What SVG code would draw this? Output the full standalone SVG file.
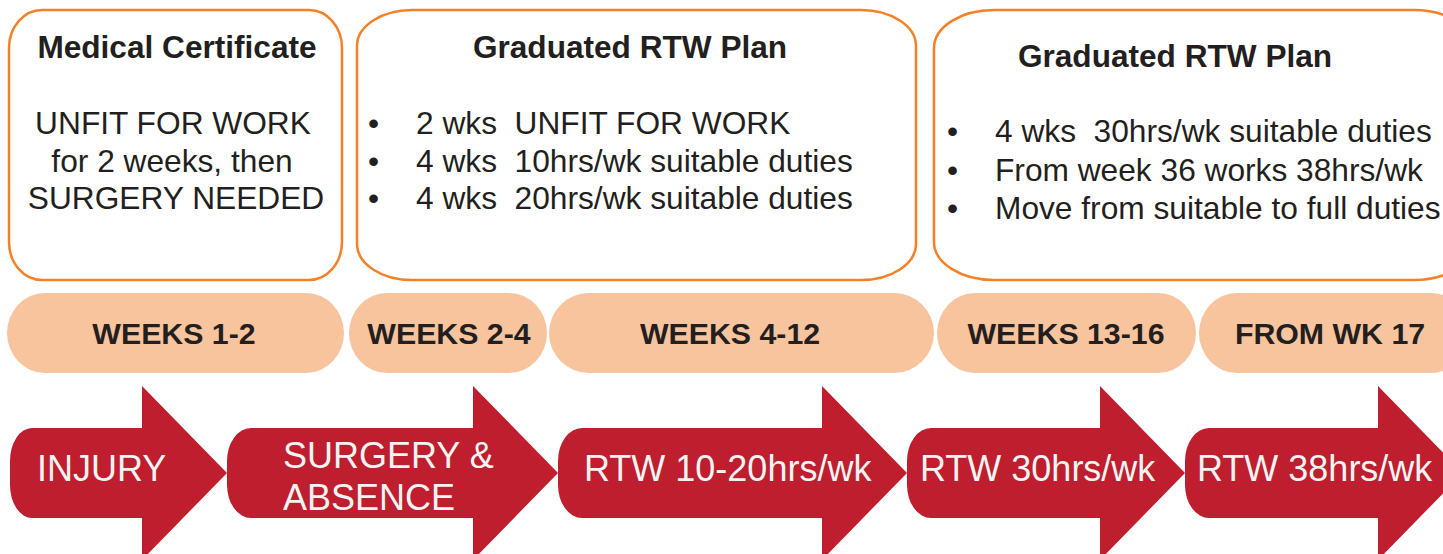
<svg xmlns="http://www.w3.org/2000/svg" width="1443" height="554" viewBox="0 0 1443 554">
<style>
.box{fill:#ffffff;stroke:#F58025;stroke-width:2.5}
.pill{fill:#F8C49D}
.arrow{fill:#BE1E2D}
.t{font-family:"Liberation Sans",Arial,sans-serif;fill:#231F20}
.title{font-size:31.6px;font-weight:bold;text-anchor:middle}
.body{font-size:31.7px;white-space:pre}
.ctr{text-anchor:middle}
.pt{font-size:30.3px;font-weight:bold;text-anchor:middle}
.at{font-family:"Liberation Sans",Arial,sans-serif;fill:#F3F3F3;font-size:36px;white-space:pre}
</style>
<rect width="1443" height="554" fill="#ffffff"/>
<g id="box-medical-certificate">
<rect class="box" x="9" y="10" width="333" height="270" rx="33" ry="38"/>
<text class="t title" x="177" y="58">Medical Certificate</text>
<text class="t body ctr" x="173" y="134">UNFIT FOR WORK</text>
<text class="t body ctr" x="172" y="172">for 2 weeks, then</text>
<text class="t body ctr" x="176" y="209">SURGERY NEEDED</text>
</g>
<g id="box-rtw-plan-1">
<rect class="box" x="357" y="10" width="559" height="270" rx="55" ry="36"/>
<text class="t title" x="630" y="58">Graduated RTW Plan</text>
<text class="t body" x="368" y="134">•</text>
<text class="t body" x="416" y="134">2 wks  UNFIT FOR WORK</text>
<text class="t body" x="368" y="172">•</text>
<text class="t body" x="416" y="172">4 wks  10hrs/wk suitable duties</text>
<text class="t body" x="368" y="209">•</text>
<text class="t body" x="416" y="209">4 wks  20hrs/wk suitable duties</text>
</g>
<g id="box-rtw-plan-2">
<rect class="box" x="934" y="10" width="540" height="270" rx="60" ry="38"/>
<text class="t title" x="1175" y="67">Graduated RTW Plan</text>
<text class="t body" x="947" y="142">•</text>
<text class="t body" x="995" y="142">4 wks  30hrs/wk suitable duties</text>
<text class="t body" x="947" y="181">•</text>
<text class="t body" x="995" y="181">From week 36 works 38hrs/wk</text>
<text class="t body" x="947" y="219">•</text>
<text class="t body" x="995" y="219">Move from suitable to full duties</text>
</g>
<g id="pill-weeks-1-2">
<rect class="pill" x="7" y="293" width="337" height="80" rx="38" ry="40"/>
<text class="t pt" x="174" y="344">WEEKS 1-2</text>
</g>
<g id="pill-weeks-2-4">
<rect class="pill" x="349" y="293" width="198" height="80" rx="38" ry="40"/>
<text class="t pt" x="449" y="344">WEEKS 2-4</text>
</g>
<g id="pill-weeks-4-12">
<rect class="pill" x="549" y="293" width="385" height="80" rx="40" ry="40"/>
<text class="t pt" x="730" y="344">WEEKS 4-12</text>
</g>
<g id="pill-weeks-13-16">
<rect class="pill" x="937" y="293" width="259" height="80" rx="38" ry="40"/>
<text class="t pt" x="1066" y="344">WEEKS 13-16</text>
</g>
<g id="pill-from-wk-17">
<rect class="pill" x="1199" y="293" width="270" height="80" rx="38" ry="40"/>
<text class="t pt" x="1330" y="344">FROM WK 17</text>
</g>
<g id="arrow-injury">
<path class="arrow" d="M32,428 L142,428 L142,386 L227,473 L142,560 L142,518 L32,518 A22 33 0 0 1 10,485 L10,461 A22 33 0 0 1 32,428 Z"/>
<text class="at" x="37" y="481">INJURY</text>
</g>
<g id="arrow-surgery">
<path class="arrow" d="M251,428 L473,428 L473,386 L558,473 L473,560 L473,518 L251,518 A24 33 0 0 1 227,485 L227,461 A24 33 0 0 1 251,428 Z"/>
<text class="at" x="283" y="468">SURGERY &amp;</text>
<text class="at" x="283" y="510">ABSENCE</text>
</g>
<g id="arrow-rtw-10-20">
<path class="arrow" d="M582,428 L822,428 L822,386 L907,473 L822,560 L822,518 L582,518 A24 33 0 0 1 558,485 L558,461 A24 33 0 0 1 582,428 Z"/>
<text class="at" x="584" y="481">RTW 10-20hrs/wk</text>
</g>
<g id="arrow-rtw-30">
<path class="arrow" d="M931,428 L1100,428 L1100,386 L1185,473 L1100,560 L1100,518 L931,518 A24 33 0 0 1 907,485 L907,461 A24 33 0 0 1 931,428 Z"/>
<text class="at" x="920" y="481">RTW 30hrs/wk</text>
</g>
<g id="arrow-rtw-38">
<path class="arrow" d="M1209,428 L1378,428 L1378,386 L1463,473 L1378,560 L1378,518 L1209,518 A24 33 0 0 1 1185,485 L1185,461 A24 33 0 0 1 1209,428 Z"/>
<text class="at" x="1197" y="481">RTW 38hrs/wk</text>
</g>
<g id="connectors"></g>
</svg>
